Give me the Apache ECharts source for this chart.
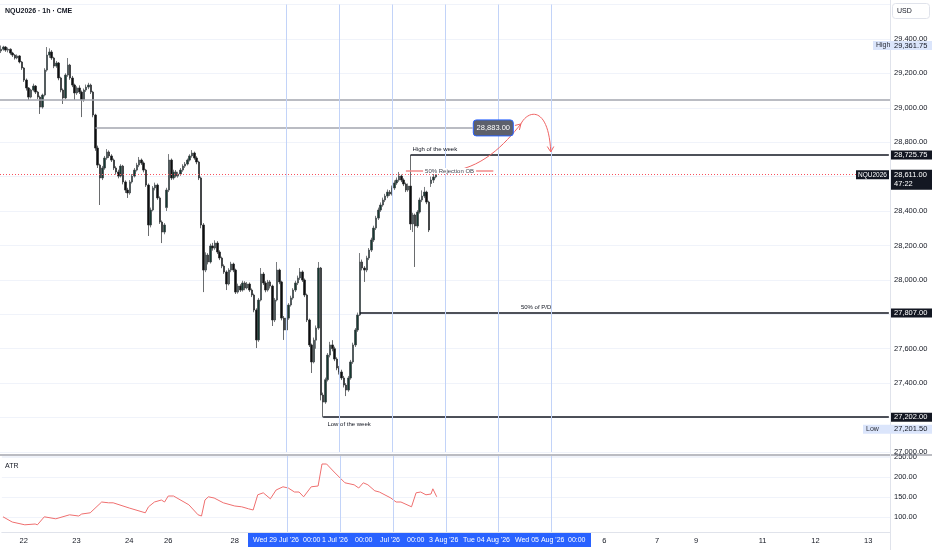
<!DOCTYPE html>
<html>
<head>
<meta charset="utf-8">
<title>NQU2026 1h CME</title>
<script src="https://cdn.jsdelivr.net/npm/echarts@6/dist/echarts.min.js"></script>
<style>
  html, body { margin: 0; padding: 0; background: #fff; }
  #main { width: 932px; height: 550px; }
</style>
</head>
<body>
<div id="main"></div>
<script>
// 时间轴: 387 个小时槽位, 只有部分槽位显示日期
var slotCount = 387;
var dayTicks = [[9, '22'], [32, '23'], [55, '24'], [72, '26'], [101, '28'], [262, '6'], [285, '7'], [302, '9'], [331, '11'], [354, '12'], [377, '13']];
var dayLines = [124, 147, 170, 193, 216, 239];

// K线 [open, close, low, high]
var candles = [
  [29330, 29340, 29318, 29361.75], [29340, 29353, 29332, 29360], [29353, 29335, 29325, 29358], [29335, 29340, 29322, 29350],
  [29340, 29318, 29308, 29345], [29318, 29306, 29295, 29325], [29306, 29289, 29280, 29312], [29289, 29301, 29282, 29310],
  [29301, 29266, 29258, 29306], [29266, 29231, 29220, 29272], [29231, 29161, 29150, 29236], [29161, 29115, 29100, 29170],
  [29115, 29062, 29045, 29120], [29062, 29103, 29055, 29110], [29103, 29126, 29095, 29140], [29126, 29091, 29080, 29132],
  [29091, 29062, 29050, 29098], [29062, 29004, 28964, 29070], [29004, 29074, 28995, 29082], [29074, 29219, 29066, 29230],
  [29219, 29306, 29210, 29353], [29306, 29324, 29290, 29345], [29324, 29289, 29278, 29335], [29289, 29242, 29230, 29296],
  [29242, 29260, 29232, 29272], [29260, 29173, 29160, 29266], [29173, 29103, 29090, 29180], [29103, 29057, 29022, 29112],
  [29057, 29190, 29050, 29200], [29190, 29248, 29180, 29289], [29248, 29173, 29162, 29255], [29173, 29132, 29120, 29185],
  [29132, 29086, 29045, 29140], [29086, 29115, 29075, 29125], [29115, 29091, 29080, 29130], [29091, 29045, 28946, 29100],
  [29045, 29103, 29035, 29112], [29103, 29120, 29092, 29135], [29120, 29132, 29108, 29145], [29132, 29091, 29080, 29140],
  [29091, 28958, 28945, 29098], [28958, 28766, 28750, 28965], [28766, 28667, 28650, 28780], [28667, 28592, 28435, 28675],
  [28592, 28650, 28580, 28662], [28650, 28708, 28640, 28720], [28708, 28743, 28698, 28760], [28743, 28720, 28708, 28752],
  [28720, 28696, 28685, 28730], [28696, 28650, 28638, 28705], [28650, 28627, 28612, 28660], [28627, 28603, 28590, 28640],
  [28603, 28661, 28595, 28672], [28661, 28569, 28555, 28668], [28569, 28522, 28505, 28578], [28522, 28505, 28476, 28535],
  [28505, 28569, 28495, 28580], [28569, 28603, 28560, 28615], [28603, 28638, 28595, 28650], [28638, 28667, 28630, 28680],
  [28667, 28696, 28655, 28714], [28696, 28679, 28668, 28705], [28679, 28638, 28625, 28688], [28638, 28551, 28540, 28645],
  [28551, 28319, 28255, 28560], [28319, 28406, 28305, 28420], [28406, 28534, 28398, 28545], [28534, 28551, 28520, 28565],
  [28551, 28476, 28465, 28560], [28476, 28336, 28325, 28485], [28336, 28278, 28214, 28345], [28278, 28319, 28265, 28330],
  [28420, 28522, 28400, 28535], [28522, 28696, 28510, 28731], [28696, 28592, 28580, 28705], [28592, 28627, 28582, 28640],
  [28627, 28603, 28595, 28638], [28603, 28615, 28594, 28628], [28615, 28638, 28605, 28650], [28638, 28661, 28628, 28672],
  [28661, 28673, 28650, 28685], [28673, 28696, 28665, 28705], [28696, 28720, 28688, 28730], [28720, 28737, 28710, 28754],
  [28737, 28708, 28698, 28745], [28708, 28685, 28672, 28718], [28685, 28592, 28580, 28692], [28592, 28319, 28300, 28600],
  [28319, 28057, 27929, 28330], [28057, 28144, 28045, 28160], [28144, 28104, 28090, 28155], [28104, 28197, 28095, 28210],
  [28197, 28185, 28170, 28215], [28185, 28214, 28175, 28230], [28214, 28162, 28150, 28225], [28162, 28127, 28115, 28172],
  [28127, 28080, 28068, 28135], [28080, 28046, 28035, 28090], [28046, 27976, 27941, 28055], [27976, 28057, 27968, 28068],
  [28057, 28092, 28045, 28105], [28092, 28057, 28045, 28100], [28057, 27929, 27918, 28065], [27929, 27964, 27920, 27978],
  [27964, 27941, 27930, 27975], [27941, 27982, 27932, 27995], [27982, 27953, 27940, 27992], [27953, 27976, 27945, 27988],
  [27976, 27941, 27930, 27985], [27941, 27912, 27900, 27950], [27912, 27825, 27812, 27920], [27825, 27651, 27604, 27835],
  [27651, 27883, 27640, 27895], [27883, 28034, 27875, 28069], [28034, 27982, 27970, 28045], [27982, 27941, 27928, 27992],
  [27941, 27988, 27932, 28000], [27988, 27964, 27950, 27998], [27964, 27767, 27732, 27972], [27767, 27883, 27755, 27895],
  [27883, 28057, 27875, 28104], [28057, 27988, 27975, 28065], [27988, 27778, 27765, 27995], [27778, 27709, 27651, 27790],
  [27709, 27778, 27700, 27790], [27778, 27854, 27768, 27865], [27854, 27895, 27845, 27908], [27895, 27941, 27885, 27952],
  [27941, 27982, 27930, 27995], [27982, 28011, 27970, 28025], [28011, 28046, 28000, 28069], [28046, 27999, 27988, 28055],
  [27999, 27912, 27900, 28008], [27912, 27767, 27755, 27920], [27767, 27622, 27610, 27775], [27622, 27523, 27459, 27630],
  [27523, 27650, 27515, 27665], [27650, 27720, 27600, 27735], [27720, 28069, 27710, 28104], [28069, 27331, 27300, 28075],
  [27331, 27290, 27201.5, 27345], [27290, 27420, 27280, 27432], [27420, 27563, 27410, 27575], [27563, 27622, 27550, 27640],
  [27622, 27600, 27585, 27650], [27600, 27540, 27528, 27612], [27540, 27488, 27475, 27550], [27488, 27465, 27450, 27500],
  [27465, 27430, 27418, 27478], [27430, 27389, 27375, 27442], [27389, 27360, 27325, 27400], [27360, 27430, 27350, 27442],
  [27430, 27523, 27420, 27535], [27523, 27622, 27512, 27635], [27622, 27709, 27610, 27720], [27709, 27796, 27698, 27810],
  [27796, 28104, 27790, 28156], [28104, 28069, 28055, 28118], [28069, 28057, 27988, 28080], [28057, 28127, 28045, 28140],
  [28127, 28173, 28115, 28185], [28173, 28232, 28162, 28245], [28232, 28301, 28220, 28315], [28301, 28359, 28290, 28372],
  [28359, 28406, 28348, 28420], [28406, 28435, 28395, 28450], [28435, 28464, 28425, 28478], [28464, 28487, 28452, 28500],
  [28487, 28510, 28475, 28525], [28510, 28499, 28488, 28522], [28499, 28534, 28490, 28548], [28534, 28563, 28522, 28578],
  [28563, 28580, 28552, 28595], [28580, 28603, 28570, 28627], [28603, 28580, 28568, 28612], [28580, 28557, 28545, 28590],
  [28557, 28522, 28510, 28565], [28522, 28545, 28512, 28560], [28545, 28325, 28290, 28725.75], [28325, 28377, 28278, 28390],
  [28377, 28313, 28075, 28385], [28313, 28394, 28302, 28405], [28394, 28464, 28385, 28478], [28464, 28487, 28452, 28520],
  [28487, 28510, 28475, 28540], [28510, 28452, 28440, 28518], [28452, 28290, 28278, 28460], [28560, 28580, 28540, 28600],
  [28580, 28598, 28563, 28625], [28598, 28611, 28590, 28630]
];

// ATR(小时槽位 -> 数值)
var atrBars = [0, 4, 9.5, 14, 15, 18, 23, 29, 33, 34.3, 38, 43, 46, 48, 55, 62, 63.4, 66, 69, 70.4, 72, 74.3, 81, 85, 86.5, 88, 89.5, 92, 96, 101, 104, 107,
  109, 111, 113.4, 116.5, 119, 122, 124.3, 127, 129, 131, 134.3, 137.3, 139, 141, 144.3, 149, 153, 155, 157, 159, 162, 164, 169, 171.3, 173.4, 178, 180, 182, 184.3, 186.5, 187.3, 189];
var atrValues = [101, 88, 81, 83, 81, 101, 96, 106, 103, 108, 111, 138, 136, 136, 123, 111, 126, 138, 143, 138, 153, 153, 131, 106, 103, 143, 151, 148, 136, 128, 126, 121,
  118, 156, 161, 146, 168, 176, 173, 163, 163, 151, 176, 178, 233, 233, 213, 186, 181, 173, 186, 181, 166, 163, 148, 138, 138, 126, 161, 163, 156, 158, 171, 151];

// 价格水平
var prevLevel = 29045;
var target = 28883;
var weekHigh = 28725.75;
var rejectOB = 28633;
var lastPrice = 28611;
var halfPD = 27807;
var weekLow = 27202;
var chartHigh = 29361.75;
var chartLow = 27201.5;

var FONT = '"Liberation Sans", Arial, sans-serif';

function fmt(v) {
  return Number(v).toLocaleString('en-US', { minimumFractionDigits: 2, maximumFractionDigits: 2 });
}

var categories = [];
for (var k = 0; k < slotCount; k++) categories.push('');
dayTicks.forEach(function (d) { categories[d[0]] = d[1]; });

var atrPoints = atrBars.map(function (b, i) { return [b, atrValues[i]]; });

function solid(color, width) { return { color: color, width: width, type: 'solid' }; }
function ray(from, to, price, style) {
  return [{ coord: [from, price], lineStyle: style }, { coord: [to, price] }];
}

var chart = echarts.init(document.getElementById('main'));

var option = {
  animation: false,
  textStyle: { fontFamily: FONT },
  grid: [
    { left: 0, right: 42, top: 4.5, height: 447.5 },
    { left: 0, right: 42, top: 456, height: 76 }
  ],
  xAxis: [
    { type: 'category', gridIndex: 0, data: categories, boundaryGap: true,
      axisLine: { show: false }, axisTick: { show: false }, axisLabel: { show: false }, splitLine: { show: false } },
    { type: 'category', gridIndex: 1, data: categories, boundaryGap: true,
      axisLine: { show: true, lineStyle: { color: '#e0e3eb' } }, axisTick: { show: false },
      axisLabel: { interval: 0, fontSize: 7.5, color: '#131722', margin: 5 }, splitLine: { show: false } },
    { type: 'value', gridIndex: 1, min: -0.5, max: slotCount - 0.5, show: false }
  ],
  yAxis: [
    { type: 'value', gridIndex: 0, position: 'right', min: 27000, max: 29600, interval: 200,
      axisLine: { show: false }, axisTick: { show: false },
      splitLine: { lineStyle: { color: '#f0f3fa' } },
      axisLabel: { fontSize: 7.5, color: '#131722', margin: 4,
        formatter: function (v) { return v >= 29600 ? '' : fmt(v); } } },
    { type: 'value', gridIndex: 1, position: 'right', min: 63, max: 253, minInterval: 50, maxInterval: 50,
      axisLine: { show: false }, axisTick: { show: false },
      splitLine: { lineStyle: { color: '#f0f3fa' } },
      axisLabel: { fontSize: 7.5, color: '#131722', margin: 4,
        formatter: function (v) { return v % 50 === 0 ? fmt(v) : ''; } } }
  ],
  series: [
    {
      type: 'candlestick', xAxisIndex: 0, yAxisIndex: 0, data: candles, barWidth: 2,
      itemStyle: { color: '#163a31', color0: '#0e0e0e', borderColor: '#3f4347', borderColor0: '#2a2c2f', borderWidth: 0.7 },
      markLine: {
        silent: true, symbol: ['none', 'none'], label: { show: false }, animation: false,
        data: [
          { yAxis: prevLevel, lineStyle: solid('#a3a6af', 1.5) },
          ray(41, 205, target, solid('#a3a6af', 1.5)),
          ray(178, 386, weekHigh, solid('#131722', 1.5)),
          ray(156, 386, halfPD, solid('#131722', 1.5)),
          ray(140, 386, weekLow, solid('#131722', 1.5)),
          { yAxis: lastPrice, lineStyle: { color: '#f7525f', width: 1, type: [1, 2] } },
          ray(176, 214, rejectOB, solid('#f28b8b', 1.5))
        ].concat(dayLines.map(function (d) { return { xAxis: d, lineStyle: solid('#c2d3f8', 1) }; }))
      }
    },
    {
      type: 'line', xAxisIndex: 2, yAxisIndex: 1, data: atrPoints, showSymbol: false,
      lineStyle: { color: '#ef6f6f', width: 1 },
      markLine: {
        silent: true, symbol: ['none', 'none'], label: { show: false }, animation: false,
        data: dayLines.map(function (d) { return { xAxis: d, lineStyle: solid('#c2d3f8', 1) }; })
      }
    }
  ]
};
chart.setOption(option);

// 画图工具: 文字, 箭头, 右侧价格标签
function px(i, p) { return chart.convertToPixel({ xAxisIndex: 0, yAxisIndex: 0 }, [i, p]); }
function txt(x, y, s, size, color, align, valign, extra) {
  var st = { text: s, x: 0, y: 0, fill: color, fontSize: size, fontFamily: FONT,
    align: align, textAlign: align, verticalAlign: valign, textVerticalAlign: valign };
  if (extra) for (var key in extra) st[key] = extra[key];
  return { type: 'text', x: x, y: y, z: 60, style: st };
}
function box(x, y, w, h, fill, stroke, r) {
  return { type: 'rect', z: 55, shape: { x: x, y: y, width: w, height: h, r: r || 0 },
    style: { fill: fill, stroke: stroke || null, lineWidth: stroke ? 1 : 0 } };
}

var els = [];
// 标题 / 指标名
els.push(txt(5, 11, 'NQU2026 · 1h · CME', 7, '#131722', 'left', 'middle', { fontWeight: 'bold' }));
els.push(txt(5, 466, 'ATR', 7, '#131722', 'left', 'middle'));

// 分隔线
els.push({ type: 'line', z: 40, shape: { x1: 0, y1: 455, x2: 932, y2: 455 }, style: { stroke: '#787b86', lineWidth: 1.2 } });
els.push({ type: 'line', z: 40, shape: { x1: 890.5, y1: 0, x2: 890.5, y2: 550 }, style: { stroke: '#e0e3eb', lineWidth: 1 } });

// 注释文字
var pH = px(178, weekHigh);
els.push(txt(pH[0] + 2, pH[1] - 3, 'High of the week', 6, '#131722', 'left', 'bottom'));
var pM = px(226, halfPD);
els.push(txt(pM[0], pM[1] - 3, '50% of P/D', 6, '#131722', 'left', 'bottom'));
var pL = px(141, weekLow);
els.push(txt(pL[0] + 2, pL[1] + 4, 'Low of the week', 6, '#131722', 'left', 'top'));
var pR = px(195, rejectOB);
els.push(txt(pR[0], pR[1], '50% Rejection OB', 6, '#434651', 'center', 'middle', { backgroundColor: '#ffffff', padding: [0, 2] }));

// 目标价标签
var pT = px(213.5, target);
els.push(box(pT[0] - 20, pT[1] - 8, 40, 16, '#5d606b', '#2962ff', 3));
els.push(txt(pT[0], pT[1], fmt(target), 7.5, '#ffffff', 'center', 'middle'));

// 箭头
var a0 = px(192.5, 28627), a1 = px(209, 28640), a2 = px(219, 28790), a3 = px(226, 28906);
var b1 = px(229, 28987), b2 = px(237.8, 29016), b3 = px(238.6, 28743);
var arrowStyle = { stroke: '#ef6464', lineWidth: 1, fill: 'none' };
els.push({ type: 'bezierCurve', z: 45, shape: { x1: a0[0], y1: a0[1], cpx1: a1[0], cpy1: a1[1], cpx2: a2[0], cpy2: a2[1], x2: a3[0], y2: a3[1] }, style: arrowStyle });
els.push({ type: 'polyline', z: 45, shape: { points: [[a3[0] - 6, a3[1] + 1.5], [a3[0], a3[1]], [a3[0] - 1.5, a3[1] + 6]] }, style: arrowStyle });
els.push({ type: 'bezierCurve', z: 45, shape: { x1: a3[0], y1: a3[1], cpx1: b1[0], cpy1: b1[1], cpx2: b2[0], cpy2: b2[1], x2: b3[0], y2: b3[1] }, style: arrowStyle });
els.push({ type: 'polyline', z: 45, shape: { points: [[b3[0] - 3.5, b3[1] - 5.5], [b3[0], b3[1]], [b3[0] + 3, b3[1] - 5.5]] }, style: arrowStyle });

// 右侧价格标签
function darkTag(price) {
  var y = px(0, price)[1];
  els.push(box(891, y - 4.5, 41, 9, '#131722'));
  els.push(txt(894, y, fmt(price), 7.5, '#ffffff', 'left', 'middle'));
}
darkTag(weekHigh);
darkTag(halfPD);
darkTag(weekLow);

var yl = px(0, lastPrice)[1];
els.push(box(891, yl - 5, 41, 20, '#131722'));
els.push(txt(894, yl, fmt(lastPrice), 7.5, '#ffffff', 'left', 'middle'));
els.push(txt(894, yl + 9, '47:22', 7.5, '#ffffff', 'left', 'middle'));
els.push(box(856, yl - 4.5, 33, 9, '#131722'));
els.push(txt(872.5, yl, 'NQU2026', 6.5, '#ffffff', 'center', 'middle'));

var yh = px(0, chartHigh)[1];
els.push(box(873, yh - 4.5, 59, 9, '#dbe5fb'));
els.push(txt(876, yh, 'High', 7, '#2a2e39', 'left', 'middle'));
els.push(txt(894, yh, fmt(chartHigh), 7.5, '#131722', 'left', 'middle'));

var ylo = px(0, chartLow)[1] + 12;
els.push(box(863, ylo - 4.5, 69, 9, '#dbe5fb'));
els.push(txt(866, ylo, 'Low', 7, '#2a2e39', 'left', 'middle'));
els.push(txt(894, ylo, fmt(chartLow), 7.5, '#131722', 'left', 'middle'));

// USD
els.push(box(892.5, 3.5, 37, 15, '#ffffff', '#e0e3eb', 3));
els.push(txt(897, 11, 'USD', 7, '#131722', 'left', 'middle'));

// 时间轴选中区
els.push(box(248, 533, 343, 14, '#2962ff'));
[[253, "Wed 29 Jul '26"], [303, '00:00'], [322, "1 Jul '26"], [355, '00:00'], [380, "Jul '26"], [407, '00:00'],
 [429, "3 Aug '26"], [463, "Tue 04 Aug '26"], [515, "Wed 05 Aug '26"], [568, '00:00']].forEach(function (t) {
  els.push(txt(t[0], 540.5, t[1], 7, '#ffffff', 'left', 'middle'));
});

chart.setOption({ graphic: { elements: els } });

window.onresize = function () { chart.resize(); };
</script>
</body>
</html>
